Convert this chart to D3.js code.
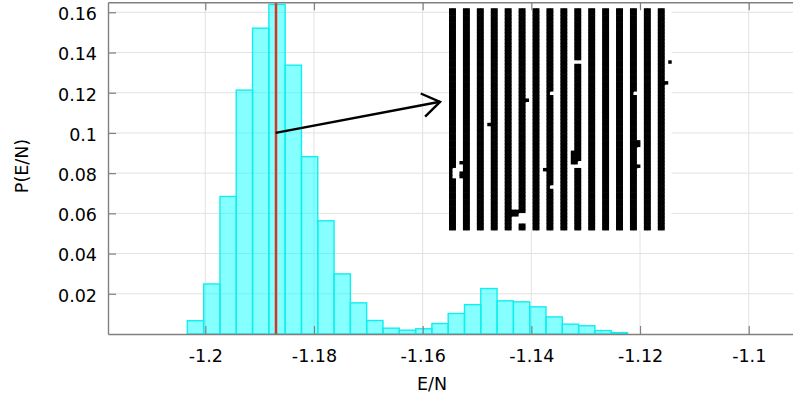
<!DOCTYPE html>
<html><head><meta charset="utf-8">
<script src="https://cdn.jsdelivr.net/npm/d3@7"></script>
<style>body{margin:0;background:#fff}svg{display:block}text{font-family:"DejaVu Sans",sans-serif}</style>
</head><body><svg id="chart" width="793" height="404"></svg>
<script>
// ---- data ----
const binLeft = [-1.2033,-1.2003,-1.1973,-1.1943,-1.1913,-1.1883,-1.1853,-1.1823,-1.1793,-1.1763,-1.1733,-1.1703,-1.1673,-1.1643,-1.1613,-1.1583,-1.1553,-1.1523,-1.1493,-1.1463,-1.1433,-1.1403,-1.1373,-1.1343,-1.1313,-1.1283,-1.1253];
const binWidth = 0.003;
const probability = [0.0066,0.0249,0.0684,0.1213,0.1521,0.1639,0.1337,0.0882,0.0563,0.0299,0.0155,0.0067,0.0029,0.0019,0.0026,0.0052,0.0102,0.0146,0.0226,0.0165,0.0160,0.0135,0.0085,0.0049,0.0041,0.0017,0.0007];
const xTicks = [-1.2,-1.18,-1.16,-1.14,-1.12,-1.1];
const xTickLabels = ["-1.2","-1.18","-1.16","-1.14","-1.12","-1.1"];
const yTicks = [0.02,0.04,0.06,0.08,0.1,0.12,0.14,0.16];
const yTickLabels = ["0.02","0.04","0.06","0.08","0.1","0.12","0.14","0.16"];
const meanEnergy = -1.18706;
const arrowFrom = [-1.18706, 0.1];
const arrowTo = [-1.1568, 0.1155];
const insetX = [-1.15515, -1.11417];
const insetY = [0.05151, 0.16203];
const spinRows = [
"1100 1100 1100 1100 1100 1100 1100 1100 1100 1100 1100 1100 1100 1100 1100 1100",
"1100 1100 1100 1100 1100 1100 1100 1100 1100 1100 1100 1100 1100 1100 1100 1100",
"1100 1100 1100 1100 1100 1100 1100 1100 1100 1100 1100 1100 1100 1100 1100 1100",
"1100 1100 1100 1100 1100 1100 1100 1100 1100 1100 1100 1100 1100 1100 1100 1100",
"1100 1100 1100 1100 1100 1100 1100 1100 1100 1100 1100 1100 1100 1100 1100 1100",
"1100 1100 1100 1100 1100 1100 1100 1100 1100 1100 1100 1100 1100 1100 1100 1100",
"1100 1100 1100 1100 1100 1100 1100 1100 1100 1100 1100 1100 1100 1100 1100 1100",
"1100 1100 1100 1100 1100 1100 1100 1100 1100 1100 1100 1100 1100 1100 1100 1100",
"1100 1100 1100 1100 1100 1100 1100 1100 1100 1100 1100 1100 1100 1100 1100 1100",
"1100 1100 1100 1100 1100 1100 1100 1100 1100 1100 1100 1100 1100 1100 1100 1100",
"1100 1100 1100 1100 1100 1100 1100 1100 1100 1100 1100 1100 1100 1100 1100 1100",
"1100 1100 1100 1100 1100 1100 1100 1100 1100 1100 1100 1100 1100 1100 1100 1100",
"1100 1100 1100 1100 1100 1100 1100 1100 1100 1100 1100 1100 1100 1100 1100 1100",
"1100 1100 1100 1100 1100 1100 1100 1100 1100 1100 1100 1100 1100 1100 1100 1100",
"1100 1100 1100 1100 1100 1100 1100 1100 1100 1100 1100 1100 1100 1100 1100 1100",
"1100 1100 1100 1100 1100 1100 1100 1100 1100 0000 1100 1100 1100 1100 1100 1101",
"1100 1100 1100 1100 1100 1100 1100 1100 1100 1100 1100 1100 1100 1100 1100 1100",
"1100 1100 1100 1100 1100 1100 1100 1100 1100 1100 1100 1100 1100 1100 1100 1100",
"1100 1100 1100 1100 1100 1100 1100 1100 1100 1100 1100 1100 1100 1100 1100 1100",
"1100 1100 1100 1100 1100 1100 1100 1100 1100 1100 1100 1100 1100 1100 1100 1100",
"1100 1100 1100 1100 1100 1100 1100 1100 1100 1100 1100 1100 1100 1100 1100 1100",
"1100 1100 1100 1100 1100 1100 1100 1100 1100 1100 1100 1100 1100 1100 1100 1110",
"1100 1100 1100 1100 1100 1100 1100 1100 1100 1100 1100 1100 1100 1100 1100 1100",
"1100 1100 1100 1100 1100 1100 1100 1100 1100 1100 1100 1100 1100 1100 1100 1100",
"1100 1100 1100 1100 1100 1100 1100 1000 1100 1100 1100 1100 1100 1000 1100 1100",
"1100 1100 1100 1100 1100 1100 1100 1100 1100 1100 1100 1100 1100 1100 1100 1100",
"1100 1100 1100 1100 1100 1110 1100 1100 1100 1100 1100 1100 1100 1100 1100 1100",
"1100 1100 1100 1100 1100 1100 1100 1100 1100 1100 1100 1100 1100 1100 1100 1100",
"1100 1100 1100 1100 1100 1100 1100 1100 1100 1100 1100 1100 1100 1100 1100 1100",
"1100 1100 1100 1100 1100 1100 1100 1100 1100 1100 1100 1100 1100 1100 1100 1100",
"1100 1100 1100 1100 1100 1100 1100 1100 1100 1100 1100 1100 1100 1100 1100 1100",
"1100 1100 1100 1100 1100 1100 1100 1100 1100 1100 1100 1100 1100 1100 1100 1100",
"1100 1100 1100 1100 1100 1100 1100 1100 1100 1100 1100 1100 1100 1100 1100 1100",
"1100 1100 1101 1100 1100 1100 1100 1100 1100 1100 1100 1100 1100 1100 1100 1100",
"1100 1100 1100 1100 1100 1100 1100 1100 1100 1100 1100 1100 1100 1100 1100 1100",
"1100 1100 1100 1100 1100 1100 1100 1100 1100 1100 1100 1100 1100 1100 1100 1100",
"1100 1100 1100 1100 1100 1100 1100 1100 1100 1100 1100 1100 1100 1100 1100 1100",
"1100 1100 1100 1100 1100 1100 1100 1100 1100 1100 1100 1100 1100 1100 1100 1100",
"1100 1100 1100 1100 1100 1100 1100 1100 1100 1100 1100 1100 1100 1110 1100 1100",
"1100 1100 1100 1100 1100 1100 1100 1100 1100 1100 1100 1100 1100 1110 1100 1100",
"1100 1100 1100 1100 1100 1100 1100 1100 1100 1100 1100 1100 1100 1100 1100 1100",
"1100 1100 1100 1100 1100 1100 1100 1100 1101 1100 1100 1100 1100 1100 1100 1100",
"1100 1100 1100 1100 1100 1100 1100 1100 1101 1100 1100 1100 1100 1100 1100 1100",
"1100 1100 1100 1100 1100 1100 1100 1100 1101 1100 1100 1100 1100 1100 1100 1100",
"1101 1100 1100 1100 1100 1100 1100 1100 1101 1000 1100 1100 1100 1100 1100 1100",
"1100 1100 1100 1100 1100 1100 1100 1100 1100 0000 1100 1100 1100 1110 1100 1100",
"1000 1100 1100 1100 1100 1100 1101 1100 1100 1100 1100 1100 1100 1100 1100 1100",
"1001 1100 1100 1100 1100 1100 1100 1100 1100 1100 1100 1100 1100 1100 1100 1100",
"1001 1100 1100 1100 1100 1100 1100 1100 1100 1100 1100 1100 1100 1100 1100 1100",
"1100 1100 1100 1100 1100 1100 1100 1100 1100 1100 1100 1100 1100 1100 1100 1100",
"1100 1100 1100 1100 1100 1100 1100 1100 1100 1100 1100 1100 1100 1100 1100 1100",
"1100 1100 1100 1100 1100 1100 1100 1000 1100 1100 1100 1100 1100 1100 1100 1100",
"1100 1100 1100 1100 1100 1100 1100 1100 1100 1100 1100 1100 1100 1100 1100 1100",
"1100 1100 1100 1100 1100 1100 1100 1100 1100 1100 1100 1100 1100 1100 1100 1100",
"1100 1100 1100 1100 1100 1100 1100 1100 1100 1100 1100 1100 1100 1100 1100 1100",
"1100 1100 1100 1100 1100 1100 1100 1100 1100 1100 1100 1100 1100 1100 1100 1100",
"1100 1100 1100 1100 1100 1100 1100 1100 1100 1100 1100 1100 1100 1100 1100 1100",
"1100 1100 1100 1100 1100 1100 1100 1100 1100 1100 1100 1100 1100 1100 1100 1100",
"1100 1100 1100 1100 1111 1100 1100 1100 1100 1100 1100 1100 1100 1100 1100 1100",
"1100 1100 1100 1100 1111 0000 1100 1100 1100 1100 1100 1100 1100 1100 1100 1100",
"1100 1100 1100 1100 1100 0000 1100 1100 1100 1100 1100 1100 1100 1100 1100 1100",
"1100 1100 1100 1100 1100 0000 1100 1100 1100 1100 1100 1100 1100 1100 1100 1100",
"1100 1100 1100 1100 1100 1100 1100 1100 1100 1100 1100 1100 1100 1100 1100 1100",
"1100 1100 1100 1100 1100 1100 1100 1100 1100 1100 1100 1100 1100 1100 1100 1100"
];

// ---- drawing ----
const svg = d3.select("#chart");
svg.append("rect").attr("width",793).attr("height",404).attr("fill","#fff");
const x = d3.scaleLinear().domain([-1.2179,-1.09185]).range([108,793]);
const y = d3.scaleLinear().domain([0,0.165]).range([334,2.25]);
const gridColor = "#e2e2e2", axisColor = "#808080";

// grid
svg.append("g").selectAll("line").data(xTicks).join("line")
  .attr("x1",d=>x(d)).attr("x2",d=>x(d)).attr("y1",y.range()[0]).attr("y2",y.range()[1])
  .attr("stroke",gridColor).attr("stroke-width",1);
svg.append("g").selectAll("line").data(yTicks).join("line")
  .attr("x1",x.range()[0]).attr("x2",x.range()[1]).attr("y1",d=>y(d)).attr("y2",d=>y(d))
  .attr("stroke",gridColor).attr("stroke-width",1);

// histogram bars
svg.append("g").selectAll("rect").data(probability).join("rect")
  .attr("x",(d,i)=>x(binLeft[i]))
  .attr("width",(d,i)=>x(binLeft[i]+binWidth)-x(binLeft[i]))
  .attr("y",d=>y(d)).attr("height",d=>y(0)-y(d))
  .attr("fill","rgba(0,255,255,0.48)").attr("stroke","#12eeee").attr("stroke-width",1.4);

// mean line
const mx = Math.round(x(meanEnergy));
svg.append("line").attr("x1",mx).attr("x2",mx)
  .attr("y1",y(0)).attr("y2",y.range()[1]).attr("stroke","#d8341f").attr("stroke-width",2.5);

// inset spin configuration
const grid = spinRows.map(r=>r.replace(/ /g,"").split("").map(Number));
const nRows = grid.length, nCols = grid[0].length;
const cx = d3.scaleBand().domain(d3.range(nCols)).range([x(insetX[0]), x(insetX[1])]);
const cy = d3.scaleBand().domain(d3.range(nRows)).range([y(insetY[1]), y(insetY[0])]);
const cells = [];
grid.forEach((row,r)=>row.forEach((v,c)=>cells.push({r,c,v})));
const gi = svg.append("g");
gi.append("rect").attr("x",cx.range()[0]).attr("y",cy.range()[0])
  .attr("width",cx.range()[1]-cx.range()[0]).attr("height",cy.range()[1]-cy.range()[0]).attr("fill","#fff");
gi.selectAll("rect.cell").data(cells.filter(d=>d.v===1)).join("rect").attr("class","cell")
  .attr("x",d=>cx(d.c)).attr("y",d=>cy(d.r))
  .attr("width",d=>cx.bandwidth()+(d.c<nCols-1&&grid[d.r][d.c+1]===1?0.6:0))
  .attr("height",d=>cy.bandwidth()+(d.r<nRows-1&&grid[d.r+1][d.c]===1?0.6:0))
  .attr("fill","#000");

// arrow
const ax1 = x(arrowFrom[0]), ay1 = y(arrowFrom[1]), ax2 = x(arrowTo[0]), ay2 = y(arrowTo[1]);
const ang = Math.atan2(ay2-ay1, ax2-ax1), hl = 21, ha = 34*Math.PI/180;
svg.append("line").attr("x1",ax1).attr("y1",ay1).attr("x2",ax2).attr("y2",ay2)
  .attr("stroke","#000").attr("stroke-width",2.4);
svg.append("path")
  .attr("d",`M${ax2-hl*Math.cos(ang-ha)},${ay2-hl*Math.sin(ang-ha)}L${ax2},${ay2}L${ax2-hl*Math.cos(ang+ha)},${ay2-hl*Math.sin(ang+ha)}`)
  .attr("fill","none").attr("stroke","#000").attr("stroke-width",2.4);

// axes
const xAxis = svg.append("g").attr("transform",`translate(0,${y(0)})`)
  .call(d3.axisBottom(x).tickValues(xTicks).tickFormat((d,i)=>xTickLabels[i]).tickSizeInner(-8).tickSizeOuter(0).tickPadding(15.5));
const xTop = svg.append("g").attr("transform",`translate(0,${y.range()[1]})`)
  .call(d3.axisTop(x).tickValues(xTicks).tickFormat("").tickSizeInner(-8).tickSizeOuter(0));
const yAxis = svg.append("g").attr("transform",`translate(${x.range()[0]},0)`)
  .call(d3.axisLeft(y).tickValues(yTicks).tickFormat((d,i)=>yTickLabels[i]).tickSizeInner(-8).tickSizeOuter(0).tickPadding(11));
[xAxis,xTop,yAxis].forEach(g=>{
  g.select(".domain").attr("stroke",axisColor).attr("stroke-width",1.4);
  g.selectAll(".tick line").attr("stroke",axisColor).attr("stroke-width",1.2);
  g.selectAll("text").attr("fill","#000").attr("font-size","17.5px").attr("font-family","DejaVu Sans, sans-serif");
});
yAxis.selectAll("text").attr("dy","0.42em");

// titles
svg.append("text").attr("x",432).attr("y",390).attr("text-anchor","middle")
  .attr("font-size","17.5px").attr("fill","#000").text("E/N");
svg.append("text").attr("transform","translate(28,166) rotate(-90)").attr("text-anchor","middle")
  .attr("font-size","17.5px").attr("fill","#000").text("P(E/N)");
</script></body></html>
